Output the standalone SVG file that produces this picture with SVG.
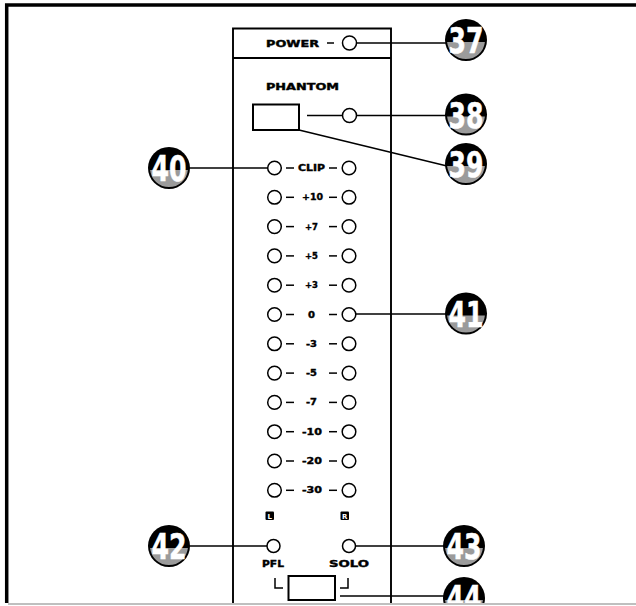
<svg xmlns="http://www.w3.org/2000/svg" xmlns:xlink="http://www.w3.org/1999/xlink" width="636" height="606" viewBox="0 0 636 606">
<style>
.ln{stroke:#000;stroke-width:1.5;fill:none}
.pl{stroke:#000;stroke-width:1.9;fill:none}
.led{fill:#fff;stroke:#000;stroke-width:1.5}
.lbl{font-family:"DejaVu Sans",sans-serif;font-weight:bold;font-size:8px;fill:#000;stroke:#000;stroke-width:0.35;text-anchor:middle}
.num{font-family:"DejaVu Sans",sans-serif;font-weight:bold;font-size:36px;fill:#fff;stroke:#fff;stroke-width:0.6;text-anchor:middle}
.btn{fill:#fff;stroke:#000;stroke-width:2}
.mk{font-family:"DejaVu Sans",sans-serif;font-weight:bold;font-size:7px;fill:#fff;text-anchor:middle}
</style>
<defs>
<clipPath id="frameClip"><rect x="0" y="0" width="636" height="603"/></clipPath>
<g id="badgeBg">
<circle r="21" fill="#000"/>
<path d="M-18.9,2 A19,19 0 0 0 18.9,2 Z" fill="#9b9b9b"/>
</g>
</defs>
<rect width="636" height="606" fill="#fff"/>
<g clip-path="url(#frameClip)">
<g id="frame">
<path d="M6.7,603 V5 H636" stroke="#000" stroke-width="3.5" fill="none"/>
</g>
<g id="panel">
<path class="pl" d="M233,603 V28.5 H391 V603"/>
<line class="pl" x1="233" y1="58" x2="391" y2="58"/>
</g>
<g id="connectors">
<line class="ln" x1="356" y1="43" x2="446" y2="43"/>
<line class="ln" x1="307" y1="115.5" x2="342" y2="115.5"/>
<line class="ln" x1="356" y1="115.5" x2="446" y2="115.5"/>
<line class="ln" x1="299" y1="130" x2="447" y2="166"/>
<line class="ln" x1="189" y1="168" x2="268" y2="168"/>
<line class="ln" x1="356" y1="314" x2="446" y2="314"/>
<line class="ln" x1="189" y1="546" x2="267" y2="546"/>
<line class="ln" x1="356" y1="546" x2="444" y2="546"/>
<line class="ln" x1="340" y1="596" x2="444" y2="596"/>
</g>
<g id="power">
<text class="lbl" x="292.5" y="47" textLength="53" lengthAdjust="spacingAndGlyphs">POWER</text>
<line class="ln" x1="327" y1="43" x2="334" y2="43"/>
<circle class="led" cx="349.5" cy="43" r="7"/>
</g>
<g id="phantom">
<text class="lbl" x="302.5" y="90" textLength="73" lengthAdjust="spacingAndGlyphs">PHANTOM</text>
<rect class="btn" x="253" y="104.5" width="46" height="25.5"/>
<circle class="led" cx="349.5" cy="115.5" r="7"/>
</g>
<g id="meter">
<g id="row-clip" transform="translate(0,168)">
<circle class="led" cx="274.5" cy="0" r="6.8"/><line class="ln" x1="286" y1="0" x2="294" y2="0"/>
<text class="lbl" x="311.5" y="3" textLength="27" lengthAdjust="spacingAndGlyphs">CLIP</text>
<line class="ln" x1="329" y1="0" x2="337" y2="0"/><circle class="led" cx="349" cy="0" r="6.8"/>
</g>
<g id="row-p10" transform="translate(0,197.3)">
<circle class="led" cx="274.5" cy="0" r="6.8"/><line class="ln" x1="286" y1="0" x2="294" y2="0"/>
<text class="lbl" x="312.5" y="3" textLength="21" lengthAdjust="spacingAndGlyphs">+10</text>
<line class="ln" x1="329" y1="0" x2="337" y2="0"/><circle class="led" cx="349" cy="0" r="6.8"/>
</g>
<g id="row-p7" transform="translate(0,226.6)">
<circle class="led" cx="274.5" cy="0" r="6.8"/><line class="ln" x1="286" y1="0" x2="294" y2="0"/>
<text class="lbl" x="311.5" y="3" textLength="13" lengthAdjust="spacingAndGlyphs">+7</text>
<line class="ln" x1="329" y1="0" x2="337" y2="0"/><circle class="led" cx="349" cy="0" r="6.8"/>
</g>
<g id="row-p5" transform="translate(0,255.9)">
<circle class="led" cx="274.5" cy="0" r="6.8"/><line class="ln" x1="286" y1="0" x2="294" y2="0"/>
<text class="lbl" x="311.5" y="3" textLength="13" lengthAdjust="spacingAndGlyphs">+5</text>
<line class="ln" x1="329" y1="0" x2="337" y2="0"/><circle class="led" cx="349" cy="0" r="6.8"/>
</g>
<g id="row-p3" transform="translate(0,285.2)">
<circle class="led" cx="274.5" cy="0" r="6.8"/><line class="ln" x1="286" y1="0" x2="294" y2="0"/>
<text class="lbl" x="311.5" y="3" textLength="13" lengthAdjust="spacingAndGlyphs">+3</text>
<line class="ln" x1="329" y1="0" x2="337" y2="0"/><circle class="led" cx="349" cy="0" r="6.8"/>
</g>
<g id="row-0" transform="translate(0,314.5)">
<circle class="led" cx="274.5" cy="0" r="6.8"/><line class="ln" x1="286" y1="0" x2="294" y2="0"/>
<text class="lbl" x="311.5" y="3" textLength="7" lengthAdjust="spacingAndGlyphs">0</text>
<line class="ln" x1="329" y1="0" x2="337" y2="0"/><circle class="led" cx="349" cy="0" r="6.8"/>
</g>
<g id="row-m3" transform="translate(0,343.8)">
<circle class="led" cx="274.5" cy="0" r="6.8"/><line class="ln" x1="286" y1="0" x2="294" y2="0"/>
<text class="lbl" x="311.5" y="3" textLength="11" lengthAdjust="spacingAndGlyphs">-3</text>
<line class="ln" x1="329" y1="0" x2="337" y2="0"/><circle class="led" cx="349" cy="0" r="6.8"/>
</g>
<g id="row-m5" transform="translate(0,373.1)">
<circle class="led" cx="274.5" cy="0" r="6.8"/><line class="ln" x1="286" y1="0" x2="294" y2="0"/>
<text class="lbl" x="311.5" y="3" textLength="11" lengthAdjust="spacingAndGlyphs">-5</text>
<line class="ln" x1="329" y1="0" x2="337" y2="0"/><circle class="led" cx="349" cy="0" r="6.8"/>
</g>
<g id="row-m7" transform="translate(0,402.4)">
<circle class="led" cx="274.5" cy="0" r="6.8"/><line class="ln" x1="286" y1="0" x2="294" y2="0"/>
<text class="lbl" x="311.5" y="3" textLength="11" lengthAdjust="spacingAndGlyphs">-7</text>
<line class="ln" x1="329" y1="0" x2="337" y2="0"/><circle class="led" cx="349" cy="0" r="6.8"/>
</g>
<g id="row-m10" transform="translate(0,431.7)">
<circle class="led" cx="274.5" cy="0" r="6.8"/><line class="ln" x1="286" y1="0" x2="294" y2="0"/>
<text class="lbl" x="312" y="3" textLength="20" lengthAdjust="spacingAndGlyphs">-10</text>
<line class="ln" x1="329" y1="0" x2="337" y2="0"/><circle class="led" cx="349" cy="0" r="6.8"/>
</g>
<g id="row-m20" transform="translate(0,461)">
<circle class="led" cx="274.5" cy="0" r="6.8"/><line class="ln" x1="286" y1="0" x2="294" y2="0"/>
<text class="lbl" x="312" y="3" textLength="20" lengthAdjust="spacingAndGlyphs">-20</text>
<line class="ln" x1="329" y1="0" x2="337" y2="0"/><circle class="led" cx="349" cy="0" r="6.8"/>
</g>
<g id="row-m30" transform="translate(0,490.3)">
<circle class="led" cx="274.5" cy="0" r="6.8"/><line class="ln" x1="286" y1="0" x2="294" y2="0"/>
<text class="lbl" x="312" y="3" textLength="20" lengthAdjust="spacingAndGlyphs">-30</text>
<line class="ln" x1="329" y1="0" x2="337" y2="0"/><circle class="led" cx="349" cy="0" r="6.8"/>
</g>
</g>
<g id="lr-marks">
<rect x="265.5" y="511.5" width="8.5" height="8.5" rx="1" fill="#000"/>
<text class="mk" x="269.8" y="518.6">L</text>
<rect x="340.5" y="511.5" width="8.5" height="8.5" rx="1" fill="#000"/>
<text class="mk" x="344.8" y="518.6">R</text>
</g>
<g id="pfl">
<circle class="led" cx="273.5" cy="546" r="6.5"/>
<text class="lbl" x="273" y="567" textLength="22" lengthAdjust="spacingAndGlyphs">PFL</text>
</g>
<g id="solo">
<circle class="led" cx="349" cy="546" r="6.5"/>
<text class="lbl" x="349" y="567" textLength="40" lengthAdjust="spacingAndGlyphs">SOLO</text>
</g>
<g id="solo-button">
<polyline class="ln" points="275,578 275,588 283,588"/>
<polyline class="ln" points="340,588 348,588 348,578"/>
<rect class="btn" x="288.5" y="576" width="46.5" height="24"/>
</g>
<g id="badge37" transform="translate(466,40)"><use xlink:href="#badgeBg"/><text class="num" x="0" y="13" textLength="35" lengthAdjust="spacingAndGlyphs">37</text></g>
<g id="badge38" transform="translate(466,114.5)"><use xlink:href="#badgeBg"/><text class="num" x="0" y="13" textLength="35" lengthAdjust="spacingAndGlyphs">38</text></g>
<g id="badge39" transform="translate(466,164)"><use xlink:href="#badgeBg"/><text class="num" x="0" y="13" textLength="35" lengthAdjust="spacingAndGlyphs">39</text></g>
<g id="badge40" transform="translate(169,168)"><use xlink:href="#badgeBg"/><text class="num" x="0" y="13" textLength="35" lengthAdjust="spacingAndGlyphs">40</text></g>
<g id="badge41" transform="translate(466,313.5)"><use xlink:href="#badgeBg"/><text class="num" x="0" y="13" textLength="35" lengthAdjust="spacingAndGlyphs">41</text></g>
<g id="badge42" transform="translate(169,546)"><use xlink:href="#badgeBg"/><text class="num" x="0" y="13" textLength="35" lengthAdjust="spacingAndGlyphs">42</text></g>
<g id="badge43" transform="translate(464,546)"><use xlink:href="#badgeBg"/><text class="num" x="0" y="13" textLength="35" lengthAdjust="spacingAndGlyphs">43</text></g>
<g id="badge44" transform="translate(464,598)"><use xlink:href="#badgeBg"/><text class="num" x="0" y="13" textLength="35" lengthAdjust="spacingAndGlyphs">44</text></g>
</g>
<line x1="8" y1="604" x2="636" y2="604" stroke="#aaa" stroke-width="1.5"/>
</svg>
